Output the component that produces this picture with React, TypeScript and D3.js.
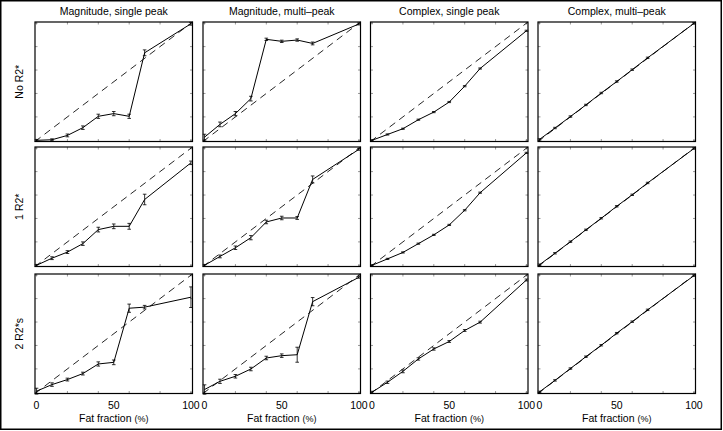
import React, { useEffect, useRef } from 'react';
import * as d3 from 'd3';

// nominal fat fraction (%) of each phantom vial
const fatFractions = [0, 10, 20, 30, 40, 50, 60, 70, 100];

const columnTitles = ['Magnitude, single peak', 'Magnitude, multi\u2013peak', 'Complex, single peak', 'Complex, multi\u2013peak'];
const rowLabels = ['No R2*', '1 R2*', '2 R2*s'];
const xTickLabels = [0, 50, 100];
const tickValues = [0, 20, 40, 60, 80, 100];

// row 1: no R2*
const noR2MagSingle = [0, 0.5, 4.2, 10.8, 20.5, 22.8, 20.5, 74.7, 99.5];
const noR2MagSingleErr = [0.8, 0.8, 1.2, 1.5, 1.8, 1.8, 1.8, 2.5, 1.2];
const noR2MagMulti = [2.7, 13.6, 22.8, 35.6, 86.2, 84.5, 85.6, 82.7, 99.3];
const noR2MagMultiErr = [2.5, 2, 1.8, 2, 1, 1, 1, 1.2, 0.8];
const noR2CplxSingle = [0, 5, 9.9, 17.6, 24.1, 32.7, 46.2, 61.3, 93.5];
const noR2CplxSingleErr = [0.5, 0.5, 0.5, 0.5, 0.5, 0.5, 0.5, 0.5, 0.5];
const noR2CplxMulti = [0.8, 10.5, 20.3, 30.2, 40.4, 50.2, 60.3, 70.4, 99.8];
const noR2CplxMultiErr = [0.6, 0.6, 0.6, 0.6, 0.6, 0.6, 0.6, 0.6, 0.6];

// row 2: one R2*
const oneR2MagSingle = [0, 6.1, 11.3, 18.5, 30.5, 33.3, 33.3, 56.2, 87.5];
const oneR2MagSingleErr = [0.8, 1.2, 1.2, 1.5, 2, 2, 2.5, 4.5, 1.5];
const oneR2MagMulti = [0, 7.6, 15, 23.6, 37, 40.4, 40.4, 73.3, 99];
const oneR2MagMultiErr = [0.8, 1.2, 1.5, 1.8, 1.5, 1.5, 1.2, 3, 0.8];
const oneR2CplxSingle = [0, 5.5, 11, 18.5, 26, 34.5, 47, 62, 96];
const oneR2CplxSingleErr = [0.5, 0.5, 0.5, 0.5, 0.5, 0.5, 0.5, 0.5, 0.5];
const oneR2CplxMulti = [0.5, 10.3, 20.2, 30.3, 40.2, 50.4, 60.2, 70.3, 99.7];
const oneR2CplxMultiErr = [0.6, 0.6, 0.6, 0.6, 0.6, 0.6, 0.6, 0.6, 0.6];

// row 3: two R2*s
const twoR2MagSingle = [1, 6.6, 10.9, 16, 24.2, 25.6, 71.8, 72.7, 81.2];
const twoR2MagSingleErr = [2.5, 1.5, 1.2, 1.2, 1.8, 2, 3.5, 1.5, 8.8];
const twoR2MagMulti = [2.4, 9.4, 13.7, 19.9, 29.3, 31.3, 32.1, 77.4, 98.2];
const twoR2MagMultiErr = [4, 1.8, 1.5, 1.5, 1.5, 1.5, 6.4, 3.5, 0.8];
const twoR2CplxSingle = [0.1, 8.6, 17.9, 28.5, 37, 43.4, 52.8, 59.9, 95.9];
const twoR2CplxSingleErr = [0.8, 1, 1.2, 1, 1, 0.8, 0.8, 0.8, 0.8];
const twoR2CplxMulti = [0.4, 10.2, 20.3, 30.4, 40.2, 50.5, 60.3, 70.4, 99.6];
const twoR2CplxMultiErr = [0.6, 0.6, 0.6, 0.6, 0.6, 0.6, 0.6, 0.6, 0.6];

const panels = [
  [[noR2MagSingle, noR2MagSingleErr], [noR2MagMulti, noR2MagMultiErr], [noR2CplxSingle, noR2CplxSingleErr], [noR2CplxMulti, noR2CplxMultiErr]],
  [[oneR2MagSingle, oneR2MagSingleErr], [oneR2MagMulti, oneR2MagMultiErr], [oneR2CplxSingle, oneR2CplxSingleErr], [oneR2CplxMulti, oneR2CplxMultiErr]],
  [[twoR2MagSingle, twoR2MagSingleErr], [twoR2MagMulti, twoR2MagMultiErr], [twoR2CplxSingle, twoR2CplxSingleErr], [twoR2CplxMulti, twoR2CplxMultiErr]],
];

const FONT = '"Liberation Sans", Arial, sans-serif';

export default function App() {
  const ref = useRef<SVGSVGElement | null>(null);

  useEffect(() => {
    const svg = d3.select(ref.current);
    svg.selectAll('*').remove();

    const W = 723, H = 431;
    const colX = [35, 203, 370.5, 538];
    const rowY = [22, 147, 274];
    const pw = 157.5, ph = 119.5;

    svg.append('rect').attr('width', W).attr('height', H).attr('fill', '#fff');
    svg.append('rect')
      .attr('x', 0.75).attr('y', 0.75).attr('width', 720.5).attr('height', 428.5)
      .attr('fill', 'none').attr('stroke', '#000').attr('stroke-width', 1.5);

    // column titles
    columnTitles.forEach((t, c) => {
      svg.append('text')
        .attr('x', colX[c] + pw / 2).attr('y', 15)
        .attr('text-anchor', 'middle')
        .style('font-family', FONT).style('font-size', '10.5px')
        .text(t);
    });

    // row labels
    rowLabels.forEach((t, r) => {
      svg.append('text')
        .attr('transform', `translate(23,${rowY[r] + ph / 2}) rotate(-90)`)
        .attr('text-anchor', 'middle')
        .style('font-family', FONT).style('font-size', '10.5px')
        .text(t);
    });

    panels.forEach((row, r) => {
      row.forEach(([vals, errs], c) => {
        const x = d3.scaleLinear().domain([-1, 101]).range([colX[c], colX[c] + pw]);
        const y = d3.scaleLinear().domain([-1, 101]).range([rowY[r] + ph, rowY[r]]);
        const g = svg.append('g');

        // inward ticks on all four sides
        const tk = '#555';
        tickValues.forEach(v => {
          g.append('line').attr('x1', x(v)).attr('x2', x(v)).attr('y1', rowY[r] + ph).attr('y2', rowY[r] + ph - 2.5).attr('stroke', tk).attr('stroke-width', 0.6);
          g.append('line').attr('x1', x(v)).attr('x2', x(v)).attr('y1', rowY[r]).attr('y2', rowY[r] + 2.5).attr('stroke', tk).attr('stroke-width', 0.6);
          g.append('line').attr('y1', y(v)).attr('y2', y(v)).attr('x1', colX[c]).attr('x2', colX[c] + 2.5).attr('stroke', tk).attr('stroke-width', 0.6);
          g.append('line').attr('y1', y(v)).attr('y2', y(v)).attr('x1', colX[c] + pw).attr('x2', colX[c] + pw - 2.5).attr('stroke', tk).attr('stroke-width', 0.6);
        });

        // identity line
        g.append('line')
          .attr('x1', x(-1)).attr('y1', y(-1)).attr('x2', x(101)).attr('y2', y(101))
          .attr('stroke', '#000').attr('stroke-width', 0.85).attr('stroke-dasharray', '7,5');

        const line = d3.line<number>().x((_, i) => x(fatFractions[i])).y(d => y(d));
        g.append('path').datum(vals as number[])
          .attr('d', line).attr('fill', 'none').attr('stroke', '#000').attr('stroke-width', 1);

        // error bars
        (vals as number[]).forEach((v, i) => {
          const e = (errs as number[])[i];
          const cx = x(fatFractions[i]);
          g.append('line').attr('x1', cx).attr('x2', cx).attr('y1', y(v - e)).attr('y2', y(v + e)).attr('stroke', '#000').attr('stroke-width', 0.8);
          [v - e, v + e].forEach(w => {
            g.append('line').attr('x1', cx - 1.8).attr('x2', cx + 1.8).attr('y1', y(w)).attr('y2', y(w)).attr('stroke', '#000').attr('stroke-width', 0.8);
          });
        });

        g.append('rect')
          .attr('x', colX[c]).attr('y', rowY[r]).attr('width', pw).attr('height', ph)
          .attr('fill', 'none').attr('stroke', '#000').attr('stroke-width', 1.2);

        if (r === panels.length - 1) {
          xTickLabels.forEach(v => {
            g.append('text')
              .attr('x', x(v)).attr('y', rowY[r] + ph + 15)
              .attr('text-anchor', 'middle')
              .style('font-family', FONT).style('font-size', '10.5px')
              .text(v);
          });
          const lab = g.append('text')
            .attr('x', colX[c] + pw / 2).attr('y', rowY[r] + ph + 28)
            .attr('text-anchor', 'middle')
            .style('font-family', FONT).style('font-size', '10.5px');
          lab.append('tspan').text('Fat fraction ');
          lab.append('tspan').style('font-size', '9px').text('(%)');
        }
      });
    });
  }, []);

  return (
    <svg ref={ref} width={723} height={431} style={{ position: 'absolute', left: 0, top: 0 }} />
  );
}
